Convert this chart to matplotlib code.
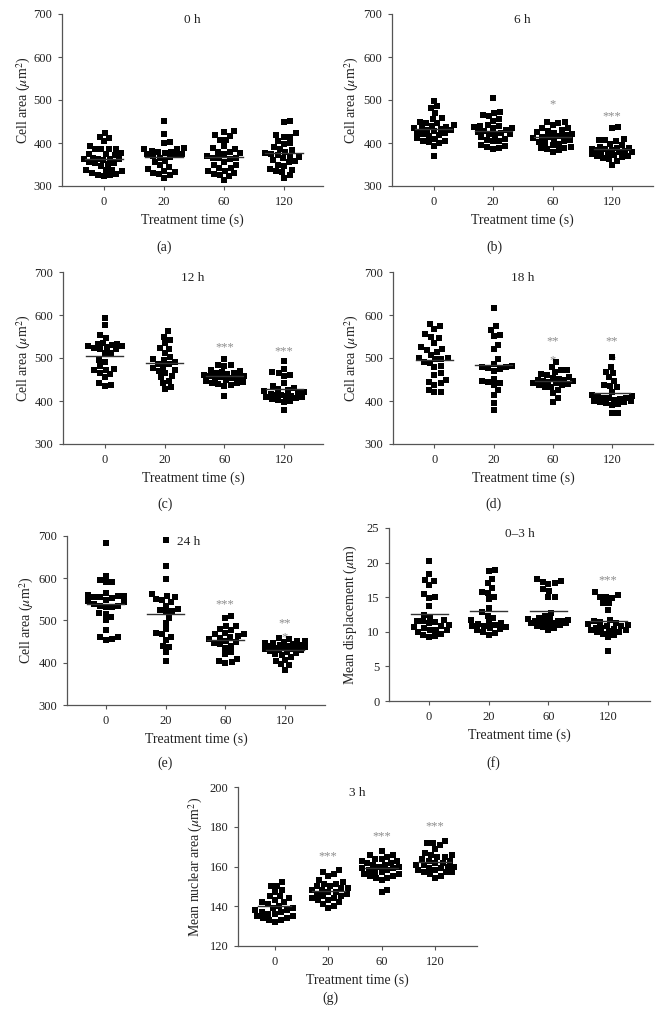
import numpy as np
import matplotlib
matplotlib.use("Agg")
import matplotlib.pyplot as plt

plt.rcParams['font.family'] = ['Liberation Serif', 'DejaVu Serif']
plt.rcParams['mathtext.fontset'] = 'stix'

# ---------------- data ----------------
categories = ["0", "20", "60", "120"]

# (a) 0 h cell area
a_0 = [423, 415, 412, 404, 394, 387, 387, 386, 385, 375, 376, 374, 373, 363, 362, 364, 361, 363, 362,
       354, 353, 355, 352, 347, 338, 337, 336, 338, 330, 329, 326, 325, 324]
a_20 = [451, 421, 402, 401, 388, 387, 385, 382, 380, 379, 376, 375, 374, 372, 369, 368, 366, 357, 355,
        348, 345, 340, 336, 333, 331, 327, 325, 318]
a_60 = [428, 426, 418, 416, 408, 406, 392, 388, 386, 380, 378, 376, 375, 370, 366, 365, 364, 362, 355,
        349, 348, 343, 341, 336, 334, 331, 329, 326, 324, 314]
a_120 = [452, 448, 423, 418, 415, 414, 405, 400, 398, 390, 386, 384, 378, 376, 374, 372, 370, 368, 364,
         360, 358, 356, 350, 346, 340, 338, 334, 332, 325, 318]

# (b) 6 h cell area
b_0 = [497, 485, 482, 470, 457, 456, 448, 447, 446, 442, 440, 438, 436, 434, 432, 431, 430, 428, 426,
       423, 420, 419, 417, 411, 409, 405, 404, 402, 399, 392, 370]
b_20 = [505, 472, 470, 465, 462, 456, 451, 441, 440, 439, 438, 436, 434, 431, 428, 426, 424, 421, 420,
        418, 414, 410, 407, 405, 404, 396, 394, 390, 388, 385]
b_60 = [449, 448, 446, 441, 435, 434, 431, 428, 425, 423, 421, 419, 417, 415, 413, 411, 409, 407, 405,
        403, 400, 398, 395, 391, 389, 388, 386, 383, 380]
b_120 = [437, 434, 410, 408, 406, 405, 398, 396, 391, 389, 388, 386, 385, 384, 383, 382, 380, 379, 378,
         376, 374, 372, 370, 369, 367, 366, 362, 358, 349]

# (c) 12 h cell area
c_0 = [592, 577, 553, 547, 534, 533, 532, 531, 529, 527, 525, 523, 521, 520, 512, 511, 496, 490, 481,
       475, 473, 471, 465, 463, 455, 441, 437, 436]
c_20 = [562, 550, 543, 535, 523, 522, 512, 502, 498, 495, 490, 487, 485, 480, 476, 471, 469, 466, 458,
        455, 446, 441, 432, 427]
c_60 = [497, 484, 483, 482, 472, 469, 468, 466, 464, 462, 460, 458, 457, 456, 455, 453, 451, 449, 447,
        445, 443, 441, 440, 438, 436, 412]
c_120 = [493, 475, 467, 465, 461, 458, 443, 435, 431, 428, 425, 423, 421, 419, 417, 415, 414, 412, 411,
         410, 409, 407, 405, 403, 400, 397, 380]

# (d) 18 h cell area
d_0 = [578, 574, 568, 555, 548, 546, 536, 525, 521, 519, 515, 508, 500, 499, 498, 497, 490, 489, 481,
       479, 465, 461, 449, 444, 441, 437, 425, 421, 420]
d_20 = [617, 574, 565, 554, 552, 530, 520, 497, 486, 481, 480, 479, 476, 474, 470, 452, 447, 444, 441,
        437, 425, 414, 395, 380]
d_60 = [490, 480, 472, 471, 467, 462, 460, 456, 453, 451, 449, 448, 447, 446, 445, 443, 442, 440, 438,
        437, 433, 432, 425, 418, 407, 398]
d_120 = [502, 480, 468, 466, 455, 447, 438, 436, 432, 422, 413, 411, 409, 408, 407, 406, 404, 403, 401,
         400, 398, 397, 395, 393, 391, 373, 372]

# (e) 24 h cell area
e_0 = [683, 606, 597, 592, 590, 565, 560, 558, 557, 556, 555, 553, 548, 545, 543, 540, 535, 534, 533,
       532, 517, 515, 508, 500, 478, 462, 460, 457, 455]
e_20 = [690, 628, 598, 562, 558, 555, 552, 548, 543, 535, 528, 525, 522, 520, 507, 495, 480, 470, 467,
        462, 455, 440, 437, 425, 405]
e_60 = [511, 507, 488, 486, 481, 478, 471, 469, 468, 463, 462, 459, 456, 451, 449, 446, 444, 440, 435,
        425, 420, 410, 405, 401, 400]
e_120 = [459, 457, 452, 451, 449, 447, 446, 444, 443, 442, 440, 439, 438, 437, 436, 435, 433, 432, 431,
         430, 428, 426, 424, 421, 419, 413, 407, 404, 396, 395, 384]

# (f) 0-3 h mean displacement
f_0 = [20.2, 18.4, 17.5, 17.4, 16.8, 15.4, 15.0, 14.9, 13.8, 12.5, 12.1, 11.7, 11.6, 11.5, 11.4, 11.2,
       11.0, 10.9, 10.7, 10.5, 10.3, 10.2, 10.2, 10.0, 9.7, 9.5, 9.4, 9.3]
f_20 = [18.9, 18.8, 17.7, 17.0, 16.3, 15.8, 15.6, 15.1, 14.7, 13.5, 12.8, 12.3, 12.0, 11.7, 11.4, 11.3,
        11.1, 11.0, 10.9, 10.8, 10.7, 10.5, 10.4, 10.2, 10.0, 9.8, 9.6]
f_60 = [17.6, 17.3, 17.2, 17.0, 16.9, 16.2, 15.9, 15.1, 15.0, 12.7, 12.3, 12.0, 11.9, 11.8, 11.7, 11.6,
        11.5, 11.5, 11.4, 11.3, 11.3, 11.2, 11.2, 11.1, 11.0, 10.9, 10.7, 10.5, 10.2]
f_120 = [15.7, 15.3, 15.1, 15.0, 14.9, 14.2, 14.1, 13.2, 11.7, 11.5, 11.4, 11.2, 11.1, 11.0, 10.9, 10.8,
         10.6, 10.5, 10.4, 10.3, 10.2, 10.1, 10.0, 9.9, 9.7, 9.5, 9.2, 7.2]

# (g) 3 h mean nuclear area
g_0 = [152, 150, 150, 148, 147, 145, 145, 144, 143, 142, 142, 141, 140, 139, 139, 138, 138, 137, 137,
       136, 136, 135, 135, 134, 134, 133, 133, 132]
g_20 = [158, 157, 156, 155, 153, 152, 151, 151, 150, 150, 149, 149, 148, 148, 147, 147, 146, 146, 145,
        145, 144, 144, 143, 143, 142, 141, 140, 139]
g_60 = [168, 166, 166, 165, 164, 164, 163, 163, 162, 162, 161, 161, 160, 160, 159, 159, 158, 158, 157,
        157, 156, 156, 155, 155, 154, 154, 153, 148, 147]
g_120 = [173, 172, 172, 171, 169, 167, 166, 166, 165, 165, 164, 163, 163, 162, 162, 161, 161, 160, 160,
         159, 159, 158, 158, 157, 157, 157, 156, 155, 154]

# significance marks: (group index, text, y)
b_stars = [(2, "*", 490), (3, "***", 462)]
c_stars = [(2, "***", 524), (3, "***", 515)]
d_stars = [(2, "**", 538), (2, "*", 494), (3, "**", 538), (3, "*", 494)]
e_stars = [(2, "***", 538), (3, "**", 494), (3, "*", 460)]
f_stars = [(3, "***", 17.5)]
g_stars = [(1, "***", 165), (2, "***", 175), (3, "***", 180)]

# ---------------- figure ----------------
W, H = 661, 1034
fig = plt.figure(figsize=(W / 100, H / 100), dpi=100)

TXT = '#222222'
SPINE = '#555555'
STAR = '#8c8c8c'


def swarm_offsets(vals, ppu, d=6.3, half_max=20.0):
    """Beeswarm (circular collision) in pixel space, width capped at +-half_max."""
    y = np.asarray(vals, float) * ppu
    order = np.argsort(y, kind='stable')
    px, py = [], []
    xs = np.zeros(len(y))
    for i in order:
        yi = y[i]
        near = [(a, b) for a, b in zip(px, py) if abs(yi - b) < d]
        cands = [0.0]
        for a, b in near:
            dx = np.sqrt(d * d - (yi - b) ** 2) + 0.01
            cands += [a + dx, a - dx]
        cands = [c for c in cands if abs(c) <= half_max]
        cands.sort(key=lambda c: (abs(c), -c))
        chosen = None
        for c in cands:
            if all((c - a) ** 2 + (yi - b) ** 2 >= d * d - 1e-6 for a, b in near):
                chosen = c
                break
        if chosen is None:
            grid = np.linspace(-half_max, half_max, 41)
            score = [min((g - a) ** 2 + (yi - b) ** 2 for a, b in near) for g in grid]
            chosen = grid[int(np.argmax(score))]
        xs[i] = chosen
        px.append(chosen)
        py.append(yi)
    return xs


def panel(box, groups, ylim, yticks, xlim, title, title_pos, ylabel, ylab_x, stars, letter, letter_pos):
    left, right, top, bottom = box
    ax = fig.add_axes([left / W, 1 - bottom / H, (right - left) / W, (bottom - top) / H])
    ax.set_xlim(*xlim)
    ax.set_ylim(*ylim)
    ppu_y = (bottom - top) / (ylim[1] - ylim[0])
    ppu_x = (right - left) / (xlim[1] - xlim[0])
    for gi, vals in enumerate(groups):
        offs = swarm_offsets(vals, ppu_y) / ppu_x
        ax.scatter(gi + offs, vals, marker='s', s=13, color='black', linewidths=0, zorder=3)
        m = np.mean(vals)
        ax.plot([gi - 0.31, gi + 0.31], [m, m], color='#333333', lw=1.0, zorder=4)
    for gi, txt, yv in stars:
        ax.text(gi, yv, txt, ha='center', va='center', fontsize=9, color=STAR, zorder=1)
    ax.set_xticks(range(len(categories)))
    ax.set_xticklabels(categories)
    ax.set_yticks(yticks)
    for s in ['top', 'right']:
        ax.spines[s].set_visible(False)
    for s in ['left', 'bottom']:
        ax.spines[s].set_color(SPINE)
        ax.spines[s].set_linewidth(0.9)
    ax.tick_params(axis='both', length=3, width=0.8, color=SPINE, labelsize=9, labelcolor=TXT, pad=4)
    ax.set_xlabel('Treatment time (s)', fontsize=10, color=TXT, labelpad=4)
    ax.set_ylabel(ylabel, fontsize=10, color=TXT)
    ax.yaxis.set_label_coords((ylab_x - left) / (right - left), 0.5)
    ax.text(title_pos, 0.965, title, transform=ax.transAxes, ha='center', va='center',
            fontsize=9.5, color=TXT)
    fig.text(letter_pos[0] / W, 1 - letter_pos[1] / H, letter, ha='center', va='center',
             fontsize=10, color=TXT)
    return ax


cell = 'Cell area ($\\mu$m$^2$)'
area_ticks = [300, 400, 500, 600, 700]

panel((62, 323, 14, 186), [a_0, a_20, a_60, a_120], (300, 700), area_ticks, (-0.7, 3.65),
      '0 h', 0.5, cell, 33, [], '(a)', (164, 247))
panel((392, 653, 14, 186), [b_0, b_20, b_60, b_120], (300, 700), area_ticks, (-0.7, 3.69),
      '6 h', 0.5, cell, 361, b_stars, '(b)', (494, 247))
panel((63, 323, 272, 444), [c_0, c_20, c_60, c_120], (300, 700), area_ticks, (-0.7, 3.65),
      '12 h', 0.5, cell, 33, c_stars, '(c)', (165, 504))
panel((393, 653, 272, 444), [d_0, d_20, d_60, d_120], (300, 700), area_ticks, (-0.7, 3.69),
      '18 h', 0.5, cell, 361, d_stars, '(d)', (493, 504))
panel((67, 325, 536, 705), [e_0, e_20, e_60, e_120], (300, 700), area_ticks, (-0.65, 3.67),
      '24 h', 0.47, cell, 36, e_stars, '(e)', (165, 763))
panel((389, 650, 528, 701), [f_0, f_20, f_60, f_120], (0, 25), [0, 5, 10, 15, 20, 25], (-0.67, 3.7),
      '0\u20133 h', 0.5, 'Mean displacement ($\\mu$m)', 359, f_stars, '(f)', (493, 763))
panel((238, 477, 787, 946), [g_0, g_20, g_60, g_120], (120, 200), [120, 140, 160, 180, 200], (-0.69, 3.79),
      '3 h', 0.5, 'Mean nuclear area ($\\mu$m$^2$)', 205, g_stars, '(g)', (330, 998))

fig.savefig('out.png', dpi=100)
